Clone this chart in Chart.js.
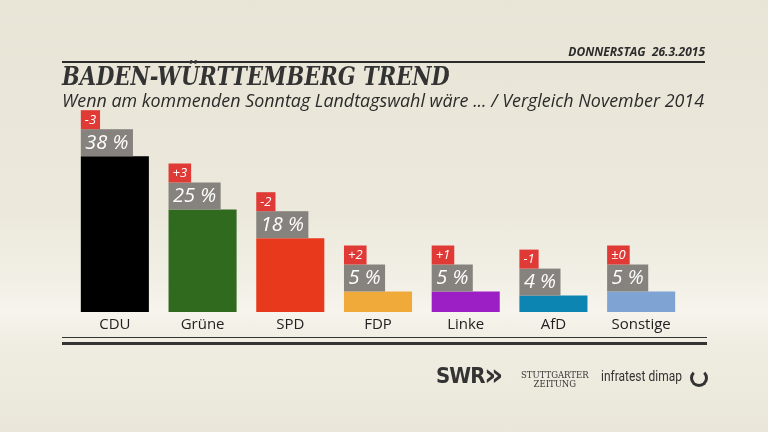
<!DOCTYPE html>
<html>
<head>
<meta charset="utf-8">
<script src="https://cdn.jsdelivr.net/npm/chart.js@4.4.1/dist/chart.umd.min.js"></script>
<style>
  html, body { margin: 0; padding: 0; }
  body {
    width: 768px; height: 432px; overflow: hidden; position: relative;
    background: linear-gradient(180deg, #e8e5d7 0%, #ecE9dc 50%, #f3f1e8 68%, #f6f4ec 72%, #efece1 80%, #eae7da 100%);
    font-family: "Open Sans", "Noto Sans", sans-serif; color: #2b2b2b;
  }
  #c { position: absolute; left: 0; top: 0; }
  .txt { position: absolute; white-space: nowrap; }
  #date { right: 63px; top: 43px; font-size: 12px; font-weight: bold; font-style: italic; }
  #rule { position: absolute; left: 62px; top: 61px; width: 643px; height: 2px; background: #2b2b2b; }
  #title { left: 62px; top: 61px; font-family: "DejaVu Serif", serif; font-size: 26px; font-weight: bold; font-style: italic; color: #333; transform: scaleX(0.81); transform-origin: 0 0; }
  #sub { left: 62px; top: 88px; font-size: 17.9px; font-style: italic; color: #2b2b2b; }
  #l1 { position: absolute; left: 62px; top: 337px; width: 645px; height: 1px; background: #333; }
  #l2 { position: absolute; left: 62px; top: 342px; width: 645px; height: 3px; background: #333; }
  #swr { left: 436px; top: 363px; font-family: "DejaVu Sans", sans-serif; font-size: 22px; font-weight: bold; color: #333; letter-spacing: -1px; transform: scaleX(0.9); transform-origin: 0 0; }
  #chev { left: 484px; top: 357px; font-family: "DejaVu Sans", sans-serif; font-size: 30px; font-weight: bold; color: #333; }
  #stz { left: 521px; top: 371px; font-family: "DejaVu Serif", serif; font-size: 8.5px; line-height: 9px; text-align: center; color: #333; }
  #inf { left: 601px; top: 367px; font-family: "Roboto", sans-serif; font-size: 15px; color: #333; transform: scaleX(0.8); transform-origin: 0 0; }
  #ico { position: absolute; left: 690px; top: 369px; width: 12px; height: 12px; border: 3px solid #333; border-top-color: transparent; border-radius: 50%; }
</style>
</head>
<body>
<canvas id="c" width="768" height="432"></canvas>
<div class="txt" id="date">DONNERSTAG&nbsp; 26.3.2015</div>
<div id="rule"></div>
<div class="txt" id="title">BADEN-WÜRTTEMBERG TREND</div>
<div class="txt" id="sub">Wenn am kommenden Sonntag Landtagswahl wäre ... / Vergleich November 2014</div>
<div id="l1"></div>
<div id="l2"></div>
<div class="txt" id="swr">SWR</div>
<div class="txt" id="chev">»</div>
<div class="txt" id="stz">STUTTGARTER<br>ZEITUNG</div>
<div class="txt" id="inf">infratest dimap</div>
<div id="ico"></div>
<script>
var parties = ["CDU", "Grüne", "SPD", "FDP", "Linke", "AfD", "Sonstige"];
var shares = [38, 25, 18, 5, 5, 4, 5];
var changes = ["-3", "+3", "-2", "+2", "+1", "-1", "±0"];
var colors = ["#000000", "#2f6a1f", "#e8391d", "#efaa3a", "#9c1fc6", "#0d85b3", "#7fa4d3"];

var boxes = {
  id: "boxes",
  afterDatasetsDraw: function(chart) {
    var ctx = chart.ctx;
    var meta = chart.getDatasetMeta(0);
    meta.data.forEach(function(bar, i) {
      var left = bar.x - bar.width / 2;
      ctx.save();
      ctx.font = "italic 20px 'Open Sans', sans-serif";
      var label = shares[i] + " %";
      var w = ctx.measureText(label).width + 9;
      var gTop = bar.y - 27;
      ctx.fillStyle = "#86837e";
      ctx.fillRect(left, gTop, w, 27);
      ctx.fillStyle = "#ffffff";
      ctx.textBaseline = "middle";
      ctx.textAlign = "center";
      ctx.fillText(label, left + w / 2, gTop + 14);
      ctx.font = "italic 13px 'Open Sans', sans-serif";
      var rw = ctx.measureText(changes[i]).width + 8;
      var rTop = gTop - 19;
      ctx.fillStyle = "#e03a37";
      ctx.fillRect(left, rTop, rw, 19);
      ctx.fillStyle = "#ffffff";
      ctx.fillText(changes[i], left + rw / 2, rTop + 10);
      ctx.restore();
    });
  }
};

new Chart(document.getElementById("c"), {
  type: "bar",
  data: {
    labels: parties,
    datasets: [{
      data: shares,
      backgroundColor: colors,
      categoryPercentage: 0.776,
      barPercentage: 1
    }]
  },
  options: {
    responsive: false,
    animation: false,
    layout: { padding: { left: 71, right: 83, top: 107, bottom: 94 } },
    plugins: { legend: { display: false }, tooltip: { enabled: false } },
    scales: {
      x: {
        grid: { display: false, drawTicks: false },
        border: { display: false },
        ticks: { color: "#222222", padding: 4, font: { family: "'Open Sans', sans-serif", size: 15 } }
      },
      y: { display: false, min: 0, max: 50 }
    }
  },
  plugins: [boxes]
});
</script>
</body>
</html>
